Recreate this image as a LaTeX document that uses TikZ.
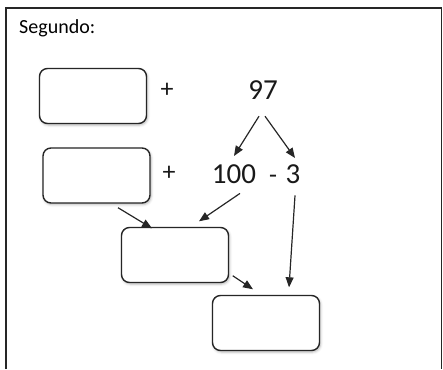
\documentclass[tikz,border=0pt]{standalone}
\usepackage{fontspec}
\setmainfont{Carlito}
\usetikzlibrary{calc,arrows.meta,shadows.blur}
\begin{document}
\begin{tikzpicture}[x=1pt,y=-1pt,
  answerbox/.style={draw=black!85, line width=1.4pt, rounded corners=8pt, fill=white,
    minimum width=107pt, minimum height=55pt, inner sep=0pt,
    blur shadow={shadow xshift=1pt, shadow yshift=-1.5pt, shadow blur radius=2.5pt, shadow opacity=30}},
  num/.style={font=\fontsize{29}{29}\selectfont, inner sep=0pt, anchor=base, text=black!90},
  op/.style={font=\fontsize{26}{26}\selectfont, inner sep=0pt, text=black!90},
  link/.style={draw=black!85, line width=1.2pt, -{Triangle[length=10pt,width=8pt]}}]
\useasboundingbox (0,0) rectangle (443,369);
% frame of the exercise (open at the bottom)
\draw[black!85, line width=1.4pt] (6,369) -- (6,8) -- (441.5,8) -- (441.5,369);
\node[anchor=west, font=\fontsize{20}{20}\selectfont, inner sep=0pt] (title) at (19,28) {Segundo:};

% answer boxes
\node[answerbox] (b1) at (93,96) {};
\node[answerbox] (b2) at (96.5,175.5) {};
\node[answerbox] (b3) at (175,255) {};
\node[answerbox] (b4) at (266,323) {};

% operators and numbers
\node[op] (p1) at (167,90) {+};
\node[op] (p2) at (169,173) {+};
\node[num] (n97) at (263,99) {97};
\node[num] (n100) at (234,183) {100};
\node[op, anchor=base] (minus) at (273,183) {-};
\node[num] (n3) at (293,183) {3};

% connectors
\draw[link] ($(n97.south)+(-4,17)$) -- ($(n100.north)+(0,-8)$);
\draw[link] ($(n97.south)+(2,17)$) -- ($(n3.north)+(2,-6)$);
\draw[link] ($(b2.south)+(21.5,4)$) -- ($(b3.north)+(-23,1.5)$);
\draw[link] ($(n100.south)+(6,10)$) -- ($(b3.north)+(24,-5.5)$);
\draw[link] ($(n3.south)+(2,12)$) -- ($(b4.north)+(23,-7.5)$);
\draw[link] ($(b3.south east)+(3.5,-7.5)$) -- ($(b4.north)+(-13,-5.5)$);
\end{tikzpicture}
\end{document}
